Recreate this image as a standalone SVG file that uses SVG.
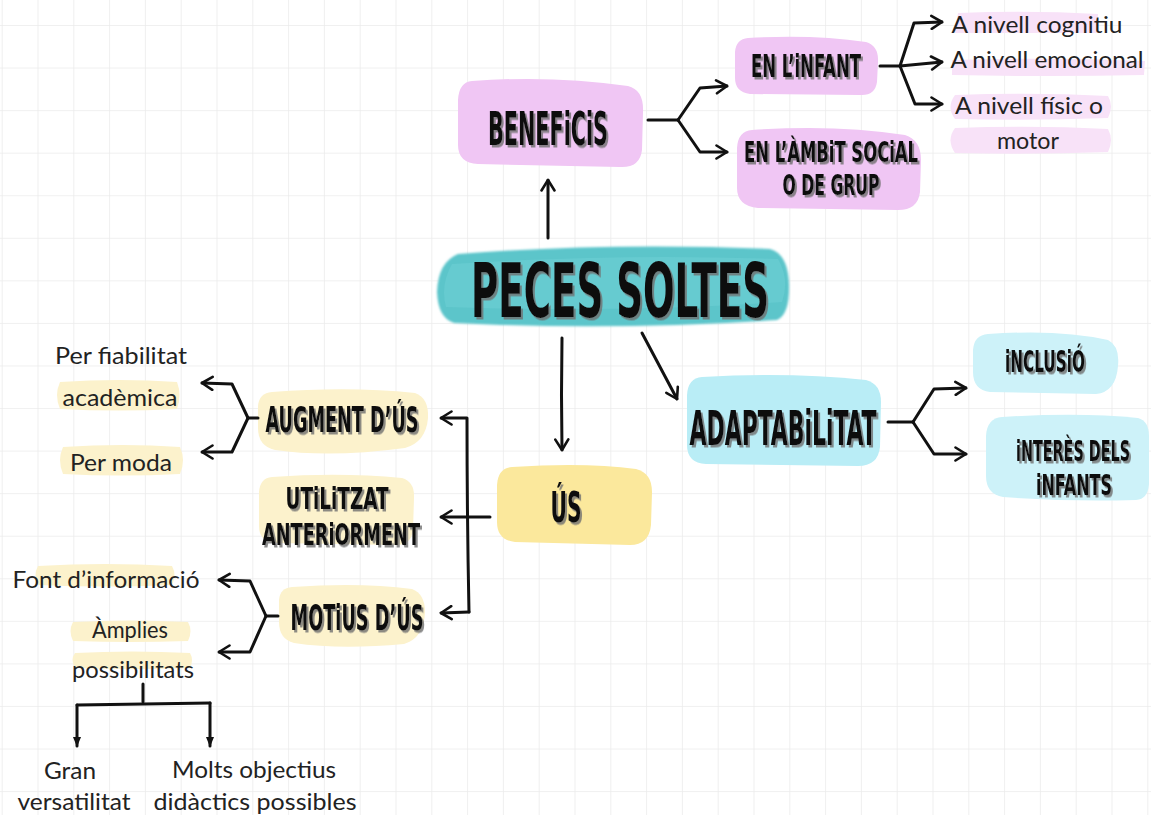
<svg xmlns="http://www.w3.org/2000/svg" width="1151" height="815" viewBox="0 0 1151 815">
<defs>
<pattern id="grid" patternUnits="userSpaceOnUse" x="1.7" y="25" width="35.8" height="42.56">
<path d="M0,0 V42.56 M0,0 H35.8" fill="none" stroke="#ebebeb" stroke-width="1.6"/>
</pattern>
<marker id="arr" viewBox="0 0 14 16" refX="12.5" refY="8" markerWidth="14" markerHeight="16" markerUnits="userSpaceOnUse" orient="auto">
<path d="M2,1.5 L12.5,8 L2,14.5" fill="none" stroke="#111" stroke-width="2.6" stroke-linecap="round" stroke-linejoin="round"/>
</marker>
<marker id="tri" viewBox="0 0 10 10" refX="9" refY="5" markerWidth="10" markerHeight="10" markerUnits="userSpaceOnUse" orient="auto">
<path d="M0,1 L10,5 L0,9 Z" fill="#111"/>
</marker>
<filter id="shadow" x="-10%" y="-20%" width="125%" height="150%">
<feDropShadow dx="2" dy="2.5" stdDeviation="0.6" flood-color="#6f6f6f" flood-opacity="0.8"/>
</filter>
<filter id="soft" x="-5%" y="-10%" width="110%" height="120%">
<feGaussianBlur stdDeviation="0.8"/>
</filter>
</defs>
<style>
.h{font-family:"Liberation Sans Narrow","DejaVu Sans Condensed","Liberation Sans",sans-serif;font-weight:bold;fill:#111;text-anchor:middle;}
.hs{filter:url(#shadow);}
.b{font-family:Lato,"Noto Sans","Open Sans",sans-serif;font-size:24px;fill:#222;text-anchor:middle;}
.c{fill:none;stroke:#111;stroke-width:3;stroke-linecap:round;stroke-linejoin:round;}
.pk{fill:#f0c6f4;}
.pkl{fill:#f8e2f8;}
.yl{fill:#fbe89c;}
.yll{fill:#fcf2cc;}
.cy{fill:#b9edf6;}
.cyl{fill:#cdf2f9;}
</style>
<rect width="1151" height="815" fill="#ffffff"/>
<rect width="1151" height="815" fill="url(#grid)"/>

<g id="title">
<path d="M458,254 Q612,242 770,249 Q788,254 789,284 Q790,314 777,320 Q612,331 454,323 Q438,318 437,292 Q438,262 458,254 Z" fill="#5cc5ca" filter="url(#soft)"/>
<path d="M452,264 Q620,253 778,259 Q790,280 782,302 Q620,313 446,307 Q440,285 452,264 Z" fill="#6dcfd4" opacity="0.6"/>
<text class="h hs" x="620" y="317" font-size="74" textLength="298" lengthAdjust="spacingAndGlyphs">PECES SOLTES</text>
</g>

<g id="beneficis">
<path class="pk" d="M472,81 Q552,75 628,86 Q644,90 643,112 L642,150 Q640,168 620,167 L478,164 Q458,163 458,145 L458,100 Q459,82 472,81 Z"/>
<text class="h hs" x="548" y="145" font-size="46" textLength="120" lengthAdjust="spacingAndGlyphs">BENEFiCiS</text>
</g>

<g id="en-infant">
<path class="pk" d="M748,38 Q812,34 866,42 Q879,46 878,62 L877,82 Q875,96 860,95 L750,94 Q735,92 735,78 L735,52 Q736,39 748,38 Z"/>
<text class="h hs" x="806" y="77" font-size="32" textLength="110" lengthAdjust="spacingAndGlyphs">EN L’iNFANT</text>
</g>

<g id="en-ambit">
<path class="pk" d="M752,130 Q835,124 905,135 Q921,140 921,160 L920,192 Q918,210 898,210 L758,208 Q737,206 737,188 L737,148 Q738,131 752,130 Z"/>
<text class="h hs" x="831" y="162" font-size="28" textLength="174" lengthAdjust="spacingAndGlyphs">EN L’ÀMBiT SOCiAL</text>
<text class="h hs" x="831" y="195" font-size="28" textLength="97" lengthAdjust="spacingAndGlyphs">O DE GRUP</text>
</g>

<g id="nivells">
<path class="pkl" d="M958,13 Q1030,10 1098,14 L1097,33 L955,33 Z"/>
<path class="pkl" d="M952,60 Q1050,57 1145,61 L1144,75 Q1050,77 952,75 Z"/>
<path class="pkl" d="M955,95 Q1035,92 1108,96 Q1114,106 1108,118 Q1030,121 955,119 Q946,107 955,95 Z"/>
<path class="pkl" d="M955,128 Q1035,125 1108,129 Q1114,140 1108,152 Q1030,155 955,153 Q946,140 955,128 Z"/>
<text class="b" x="1037" y="33" textLength="171" lengthAdjust="spacingAndGlyphs">A nivell cognitiu</text>
<text class="b" x="1047" y="68" textLength="193" lengthAdjust="spacingAndGlyphs">A nivell emocional</text>
<text class="b" x="1029" y="114" font-size="22" textLength="148" lengthAdjust="spacingAndGlyphs">A nivell físic o</text>
<text class="b" x="1028" y="149" font-size="22" textLength="62" lengthAdjust="spacingAndGlyphs">motor</text>
</g>

<g id="adaptabilitat">
<path class="cy" d="M702,377 Q790,372 866,380 Q881,384 881,402 L880,447 Q878,466 858,466 L706,464 Q687,463 687,445 L687,395 Q688,378 702,377 Z"/>
<text class="h hs" x="783" y="445" font-size="48" textLength="187" lengthAdjust="spacingAndGlyphs">ADAPTABiLiTAT</text>
</g>

<g id="inclusio">
<path class="cyl" d="M988,334 Q1060,329 1108,340 Q1120,346 1118,366 Q1116,392 1096,394 L990,392 Q973,390 973,372 L973,350 Q974,335 988,334 Z"/>
<text class="h hs" x="1045" y="372" font-size="30" textLength="80" lengthAdjust="spacingAndGlyphs">iNCLUSiÓ</text>
</g>

<g id="interes">
<path class="cyl" d="M1002,417 Q1080,412 1138,418 Q1149,421 1149,436 L1149,484 Q1148,499 1136,500 Q1070,502 1003,497 Q986,494 986,476 L986,436 Q987,418 1002,417 Z"/>
<text class="h hs" x="1073" y="461" font-size="28" textLength="114" lengthAdjust="spacingAndGlyphs">iNTERÈS DELS</text>
<text class="h hs" x="1074" y="495" font-size="28" textLength="76" lengthAdjust="spacingAndGlyphs">iNFANTS</text>
</g>

<g id="us">
<path class="yl" d="M512,467 Q585,462 636,469 Q652,473 652,492 L651,525 Q649,545 630,545 L515,542 Q497,540 497,522 L497,485 Q498,468 512,467 Z"/>
<text class="h hs" x="566" y="522" font-size="42" textLength="31" lengthAdjust="spacingAndGlyphs">ÚS</text>
</g>

<g id="augment">
<path class="yll" d="M272,392 Q350,386 415,393 Q429,398 428,418 Q426,442 405,448 Q330,458 275,450 Q258,446 258,428 L258,406 Q259,393 272,392 Z"/>
<text class="h hs" x="342" y="432" font-size="36" textLength="153" lengthAdjust="spacingAndGlyphs">AUGMENT D’ÚS</text>
</g>

<g id="utilitzat">
<path class="yll" d="M272,477 Q340,472 402,478 Q415,482 414,498 L413,530 Q411,546 395,545 L274,543 Q259,541 259,526 L259,492 Q260,478 272,477 Z"/>
<text class="h hs" x="337" y="509" font-size="31" textLength="103" lengthAdjust="spacingAndGlyphs">UTiLiTZAT</text>
<text class="h hs" x="341" y="545" font-size="31" textLength="158" lengthAdjust="spacingAndGlyphs">ANTERiORMENT</text>
</g>

<g id="motius">
<path class="yll" d="M292,587 Q360,582 412,589 Q425,594 425,612 Q424,638 404,644 Q340,650 294,643 Q279,639 279,622 L279,600 Q280,588 292,587 Z"/>
<text class="h hs" x="357" y="630" font-size="36" textLength="133" lengthAdjust="spacingAndGlyphs">MOTiUS D’ÚS</text>
</g>

<g id="augment-fills">
<path class="yll" d="M60,382 Q120,378 177,382 Q182,395 177,409 Q118,412 60,409 Q54,395 60,382 Z"/>
<path class="yll" d="M63,447 Q123,443 180,447 Q186,460 180,474 Q120,477 63,474 Q57,460 63,447 Z"/>
<text class="b" x="121" y="364" textLength="132" lengthAdjust="spacingAndGlyphs">Per fiabilitat</text>
<text class="b" x="120" y="406" textLength="115" lengthAdjust="spacingAndGlyphs">acadèmica</text>
<text class="b" x="121" y="471" textLength="102" lengthAdjust="spacingAndGlyphs">Per moda</text>
</g>

<g id="motius-fills">
<path class="yll" d="M38,566 Q105,562 172,566 Q177,575 172,585 Q105,588 38,585 Q33,575 38,566 Z"/>
<path class="yll" d="M73,622 Q130,619 188,622 Q193,631 188,641 Q130,643 73,641 Q68,631 73,622 Z"/>
<path class="yll" d="M75,653 Q132,650 190,653 Q194,660 190,668 Q132,670 75,668 Q70,660 75,653 Z"/>
<text class="b" x="106" y="588" textLength="187" lengthAdjust="spacingAndGlyphs">Font d’informació</text>
<text class="b" x="130" y="638" textLength="76" lengthAdjust="spacingAndGlyphs">Àmplies</text>
<text class="b" x="133" y="678" textLength="122" lengthAdjust="spacingAndGlyphs">possibilitats</text>
</g>

<g id="gran">
<text class="b" x="70" y="779" font-size="22" textLength="52" lengthAdjust="spacingAndGlyphs">Gran</text>
<text class="b" x="74" y="810" font-size="22" textLength="113" lengthAdjust="spacingAndGlyphs">versatilitat</text>
</g>

<g id="molts">
<text class="b" x="254" y="778" font-size="22" textLength="164" lengthAdjust="spacingAndGlyphs">Molts objectius</text>
<text class="b" x="255" y="810" font-size="22" textLength="203" lengthAdjust="spacingAndGlyphs">didàctics possibles</text>
</g>

<g id="connectors">
<path class="c" d="M548,238 L548,180" marker-end="url(#arr)"/>
<path class="c" d="M648,120 L678,120"/>
<path class="c" d="M678,120 L700,88 L727,86" marker-end="url(#arr)"/>
<path class="c" d="M678,120 L700,152 L727,152" marker-end="url(#arr)"/>
<path class="c" d="M880,66 L900,66"/>
<path class="c" d="M900,66 L914,23 L942,22" marker-end="url(#arr)"/>
<path class="c" d="M900,66 L942,62" marker-end="url(#arr)"/>
<path class="c" d="M900,66 L915,104 L942,104" marker-end="url(#arr)"/>
<path class="c" d="M562,338 Q561,395 562,450" marker-end="url(#arr)"/>
<path class="c" d="M642,333 L677,399" marker-end="url(#arr)"/>
<path class="c" d="M888,422 L913,422"/>
<path class="c" d="M913,422 L934,389 L966,388" marker-end="url(#arr)"/>
<path class="c" d="M913,422 L934,454 L966,454" marker-end="url(#arr)"/>
<path class="c" d="M490,517 L441,517" marker-end="url(#arr)"/>
<path class="c" d="M469,612 Q467,515 467,418 L441,418" marker-end="url(#arr)"/>
<path class="c" d="M469,612 L441,613" marker-end="url(#arr)"/>
<path class="c" d="M258,418 L248,418"/>
<path class="c" d="M248,418 L232,384 L202,383" marker-end="url(#arr)"/>
<path class="c" d="M248,418 L232,452 L202,452" marker-end="url(#arr)"/>
<path class="c" d="M278,616 L266,616"/>
<path class="c" d="M266,616 L250,581 L219,580" marker-end="url(#arr)"/>
<path class="c" d="M266,616 L250,652 L219,652" marker-end="url(#arr)"/>
<path class="c" d="M143,684 L143,702" stroke-width="2.5"/>
<path class="c" d="M77,705 L210,703" stroke-width="2.5"/>
<path class="c" d="M77,705 L77,746" stroke-width="2.5" marker-end="url(#tri)"/>
<path class="c" d="M210,703 L210,746" stroke-width="2.5" marker-end="url(#tri)"/>
</g>
</svg>
